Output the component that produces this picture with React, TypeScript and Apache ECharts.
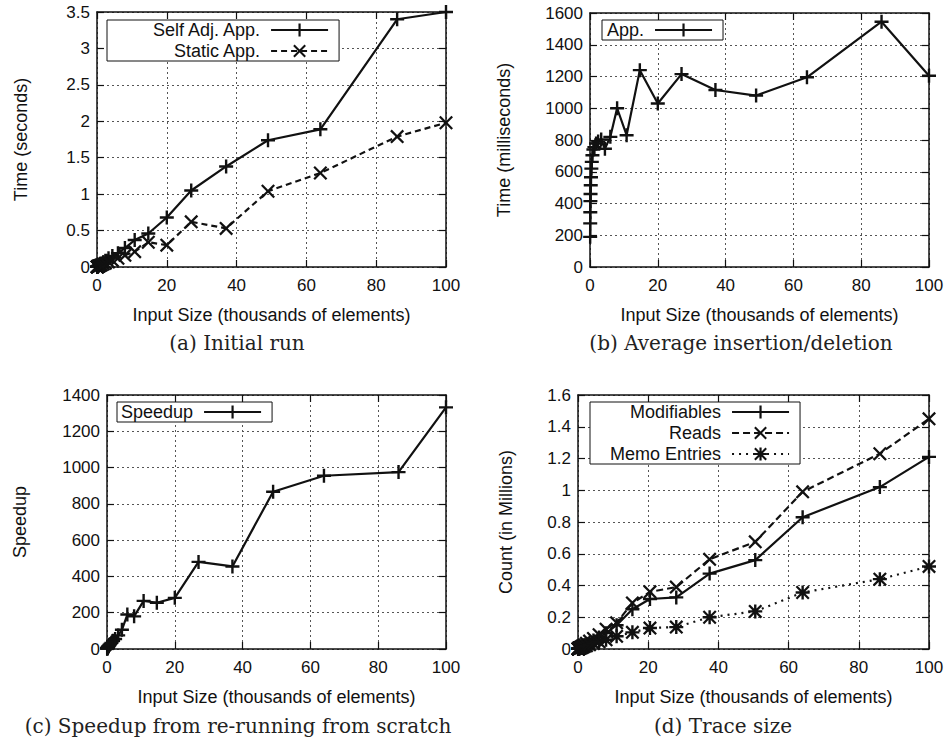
import React, { useEffect, useRef } from "react";
import * as echarts from "echarts";

// Input sizes (thousands of elements)
const sizes = [0.048, 0.065, 0.088, 0.12, 0.16, 0.22, 0.29, 0.4, 0.53, 0.72, 1.0, 1.3, 1.8, 2.4, 3.3, 4.4, 6, 8, 10.8, 14.7, 20, 27, 37, 49, 64, 86, 100];
const sizesTrace = [0.048, 0.065, 0.088, 0.12, 0.16, 0.22, 0.29, 0.4, 0.53, 0.72, 1.0, 1.3, 1.8, 2.4, 3.3, 4.4, 6, 8, 11, 15.5, 20.5, 28, 37.5, 50.5, 64, 86, 100];

// (a) Initial run, seconds
const selfAdjApp = [0.002, 0.003, 0.004, 0.005, 0.007, 0.009, 0.012, 0.016, 0.02, 0.027, 0.036, 0.047, 0.065, 0.085, 0.12, 0.15, 0.19, 0.26, 0.37, 0.46, 0.68, 1.05, 1.38, 1.74, 1.89, 3.4, 3.5];
const staticApp = [0.001, 0.002, 0.003, 0.004, 0.005, 0.006, 0.008, 0.01, 0.013, 0.017, 0.023, 0.03, 0.04, 0.052, 0.07, 0.09, 0.12, 0.16, 0.21, 0.34, 0.3, 0.62, 0.53, 1.04, 1.29, 1.79, 1.98];

// (b) Average insertion/deletion, milliseconds
const appUpdate = [190, 275, 345, 415, 460, 515, 565, 620, 662, 704, 740, 755, 778, 790, 803, 745, 820, 1000, 830, 1240, 1030, 1215, 1115, 1080, 1195, 1545, 1205];

// (c) Speedup
const speedup = [2, 3, 4, 5, 7, 9, 11, 14, 17, 22, 28, 34, 45, 55, 75, 106, 190, 180, 265, 255, 282, 480, 455, 867, 955, 975, 1332];

// (d) Trace size, millions
const modifiables = [0.001, 0.001, 0.001, 0.002, 0.002, 0.003, 0.004, 0.005, 0.007, 0.009, 0.012, 0.016, 0.022, 0.029, 0.04, 0.053, 0.072, 0.1, 0.15, 0.25, 0.315, 0.325, 0.475, 0.56, 0.83, 1.02, 1.21];
const reads = [0.001, 0.001, 0.002, 0.002, 0.003, 0.004, 0.005, 0.006, 0.008, 0.011, 0.015, 0.02, 0.027, 0.036, 0.05, 0.066, 0.09, 0.125, 0.165, 0.29, 0.36, 0.39, 0.565, 0.675, 0.99, 1.23, 1.45];
const memoEntries = [0.0005, 0.0007, 0.0009, 0.001, 0.0015, 0.002, 0.003, 0.004, 0.005, 0.006, 0.008, 0.011, 0.015, 0.02, 0.027, 0.035, 0.045, 0.058, 0.08, 0.105, 0.132, 0.138, 0.2, 0.237, 0.356, 0.44, 0.52];

const xTitle = "Input Size (thousands of elements)";
const yTitles = ["Time (seconds)", "Time (milliseconds)", "Speedup", "Count (in Millions)"];
const yMax = [3.5, 1600, 1400, 1.6];
const yStep = [0.5, 200, 200, 0.2];
const captions = ["(a) Initial run", "(b) Average insertion/deletion", "(c) Speedup from re-running from scratch", "(d) Trace size"];

const SANS = "'Liberation Sans', Arial, Helvetica, sans-serif";
const SERIF = "'DejaVu Serif', serif";
const INK = "#111";

const PLUS = "M5.8,0L8.2,0L8.2,5.8L14,5.8L14,8.2L8.2,8.2L8.2,14L5.8,14L5.8,8.2L0,8.2L0,5.8L5.8,5.8Z";
const CROSS = "M0,1.6L1.6,0L7,5.4L12.4,0L14,1.6L8.6,7L14,12.4L12.4,14L7,8.6L1.6,14L0,12.4L5.4,7Z";
const SYM_PLUS = "path://" + PLUS;
const SYM_CROSS = "path://" + CROSS;
const SYM_STAR = "path://" + PLUS + " " + CROSS;

const grids = [
  { left: 97, top: 12, width: 349, height: 255 },
  { left: 590, top: 13, width: 339, height: 254 },
  { left: 107, top: 395, width: 339, height: 254 },
  { left: 578, top: 395, width: 351, height: 254 },
];
const yNameGap = [67, 77, 78, 63];
const captionPos = [
  [237, 343],
  [741, 343],
  [238, 726],
  [723, 726],
];

const fmt = (v: number) => String(Math.round(v * 1000) / 1000);

function mkSeries(name: string, xs: number[], ys: number[], idx: number, symbol: string, dash: any) {
  return {
    type: "line",
    name,
    xAxisIndex: idx,
    yAxisIndex: idx,
    data: xs.map((x, i) => [x, ys[i]]),
    symbol,
    symbolSize: 14,
    showSymbol: true,
    clip: false,
    lineStyle: { color: INK, width: 2.2, type: dash },
    itemStyle: { color: INK },
    emphasis: { disabled: true },
    z: 3,
  };
}

function mkLegend(names: string[], left: number, top: number, padLeft: number) {
  return {
    orient: "vertical",
    left,
    top,
    align: "right",
    data: names,
    selectedMode: false,
    itemWidth: 57,
    itemHeight: 16,
    itemGap: 3,
    padding: [1, 10, 1, padLeft],
    borderColor: INK,
    borderWidth: 1,
    borderRadius: 0,
    backgroundColor: "#fff",
    textStyle: { fontFamily: SANS, fontSize: 18, color: INK, lineHeight: 16, padding: [0, 6, 0, 0] },
    z: 10,
  };
}

export default function App() {
  const ref = useRef<HTMLDivElement>(null);
  useEffect(() => {
    if (!ref.current) return;
    const chart = echarts.init(ref.current, undefined, { renderer: "svg" });
    const xAxes: any[] = [];
    const yAxes: any[] = [];
    grids.forEach((_, i) => {
      xAxes.push({
        type: "value",
        gridIndex: i,
        position: "bottom",
        min: 0,
        max: 100,
        interval: 20,
        name: xTitle,
        nameLocation: "middle",
        nameGap: 39,
        nameTextStyle: { fontFamily: SANS, fontSize: 18, color: INK },
        axisLine: { show: true, onZero: false, lineStyle: { color: INK, width: 1.5 } },
        axisTick: { show: true, inside: true, length: 7, lineStyle: { color: INK, width: 1.2 } },
        axisLabel: { margin: 10, fontFamily: SANS, fontSize: 17, color: INK, formatter: fmt },
        splitLine: { show: true, lineStyle: { color: "#555", width: 1, type: [2, 3] } },
      });
      yAxes.push({
        type: "value",
        gridIndex: i,
        position: "left",
        min: 0,
        max: yMax[i],
        interval: yStep[i],
        name: yTitles[i],
        nameLocation: "middle",
        nameGap: yNameGap[i],
        nameTextStyle: { fontFamily: SANS, fontSize: 18, color: INK },
        axisLine: { show: true, onZero: false, lineStyle: { color: INK, width: 1.5 } },
        axisTick: { show: true, inside: true, length: 7, lineStyle: { color: INK, width: 1.2 } },
        axisLabel: { margin: 7, fontFamily: SANS, fontSize: 17, color: INK, formatter: fmt },
        splitLine: { show: true, lineStyle: { color: "#555", width: 1, type: [2, 3] } },
      });
    });
    grids.forEach((_, i) => {
      xAxes.push({
        type: "value",
        gridIndex: i,
        position: "top",
        min: 0,
        max: 100,
        interval: 20,
        axisLine: { show: true, onZero: false, lineStyle: { color: INK, width: 1.5 } },
        axisTick: { show: true, inside: true, length: 7, lineStyle: { color: INK, width: 1.2 } },
        axisLabel: { show: false },
        splitLine: { show: false },
      });
      yAxes.push({
        type: "value",
        gridIndex: i,
        position: "right",
        min: 0,
        max: yMax[i],
        interval: yStep[i],
        axisLine: { show: true, onZero: false, lineStyle: { color: INK, width: 1.5 } },
        axisTick: { show: true, inside: true, length: 7, lineStyle: { color: INK, width: 1.2 } },
        axisLabel: { show: false },
        splitLine: { show: false },
      });
    });

    const option: any = {
      animation: false,
      backgroundColor: "#fff",
      grid: grids.map((g) => ({ ...g, containLabel: false })),
      xAxis: xAxes,
      yAxis: yAxes,
      legend: [
        mkLegend(["Self Adj. App.", "Static App."], 107, 20, 44),
        mkLegend(["App."], 602, 20, 5),
        mkLegend(["Speedup"], 117, 402, 4),
        mkLegend(["Modifiables", "Reads", "Memo Entries"], 590, 402, 20),
      ],
      series: [
        mkSeries("Self Adj. App.", sizes, selfAdjApp, 0, SYM_PLUS, "solid"),
        mkSeries("Static App.", sizes, staticApp, 0, SYM_CROSS, [6, 4]),
        mkSeries("App.", sizes, appUpdate, 1, SYM_PLUS, "solid"),
        mkSeries("Speedup", sizes, speedup, 2, SYM_PLUS, "solid"),
        mkSeries("Modifiables", sizesTrace, modifiables, 3, SYM_PLUS, "solid"),
        mkSeries("Reads", sizesTrace, reads, 3, SYM_CROSS, [7, 4]),
        mkSeries("Memo Entries", sizesTrace, memoEntries, 3, SYM_STAR, [2, 5]),
      ],
      graphic: captions.map((c, i) => ({
        type: "text",
        x: captionPos[i][0],
        y: captionPos[i][1],
        style: {
          text: c,
          fontFamily: SERIF,
          fontSize: 20,
          fill: "#222",
          align: "center",
          verticalAlign: "middle",
        },
      })),
    };
    chart.setOption(option);
    return () => chart.dispose();
  }, []);
  return <div ref={ref} style={{ position: "absolute", left: 0, top: 0, width: 948, height: 743 }} />;
}
